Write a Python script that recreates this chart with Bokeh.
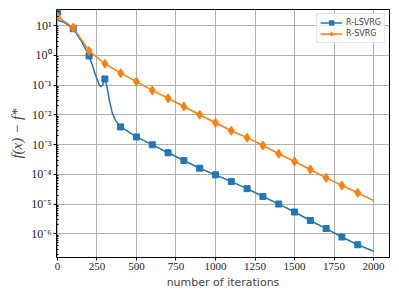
from bokeh.plotting import figure
from bokeh.models import FixedTicker, CustomJSTickFormatter, Range1d
from bokeh.embed import file_html
from bokeh.resources import INLINE

# ---- data ----
lsvrg_iters = [0, 3, 40, 100, 156, 200, 219, 240, 262, 272, 285, 300, 314, 329, 346, 367,
               400, 500, 600, 700, 800, 900, 1000, 1100, 1200, 1300, 1400, 1500, 1600,
               1700, 1800, 1900, 2000]
lsvrg_vals = [28, 15, 12.9, 7.8, 2.7, 0.95, 0.5, 0.22, 0.11, 0.089, 0.097, 0.16, 0.085, 0.03,
              0.012, 0.0065, 0.0039, 0.0018, 9.8e-4, 5.3e-4, 2.9e-4, 1.6e-4, 9.6e-5, 5.7e-5,
              3.3e-5, 1.8e-5, 1.0e-5, 5.4e-6, 2.8e-6, 1.5e-6, 7.8e-7, 4.3e-7, 2.6e-7]

svrg_iters = [0, 100, 200, 300, 400, 500, 600, 700, 800, 900, 1000, 1100, 1200, 1300,
              1400, 1500, 1600, 1700, 1800, 1900, 2000]
svrg_vals = [20, 8.5, 1.4, 0.52, 0.25, 0.13, 0.066, 0.036, 0.019, 0.010, 5.4e-3, 2.9e-3,
             1.7e-3, 9.3e-4, 4.9e-4, 2.7e-4, 1.45e-4, 7.6e-5, 4.2e-5, 2.4e-5, 1.3e-5]

marker_every = 100
x_ticks = [0, 250, 500, 750, 1000, 1250, 1500, 1750, 2000]
y_ticks = [1e-6, 1e-5, 1e-4, 1e-3, 1e-2, 1e-1, 1e0, 1e1]
y_minor = [m * 10.0 ** e for e in range(-7, 2) for m in range(2, 10)]

BLUE = "#1f77b4"
ORANGE = "#ff7f0e"

lsvrg_mx = [x for x in lsvrg_iters if x % marker_every == 0 and x < 2000]
lsvrg_my = [v for x, v in zip(lsvrg_iters, lsvrg_vals) if x % marker_every == 0 and x < 2000]
svrg_mx = [x for x in svrg_iters if x % marker_every == 0 and x < 2000]
svrg_my = [v for x, v in zip(svrg_iters, svrg_vals) if x % marker_every == 0 and x < 2000]

p = figure(width=391, height=291, y_axis_type="log",
           x_range=Range1d(-6, 2101), y_range=Range1d(1.6e-7, 34.5),
           output_backend="svg", toolbar_location=None,
           min_border_left=56, min_border_right=2, min_border_top=9, min_border_bottom=34)

p.line(lsvrg_iters, lsvrg_vals, color=BLUE, line_width=1.5, legend_label="R-LSVRG")
p.scatter(lsvrg_mx, lsvrg_my, marker="square", size=6, color=BLUE, legend_label="R-LSVRG")
p.line(svrg_iters, svrg_vals, color=ORANGE, line_width=1.5, legend_label="R-SVRG")
p.scatter(svrg_mx, svrg_my, marker="diamond", size=9, color=ORANGE, legend_label="R-SVRG")

p.outline_line_color = "black"
p.outline_line_width = 1
p.outline_line_alpha = 1

p.xaxis.ticker = FixedTicker(ticks=x_ticks)
p.yaxis.ticker = FixedTicker(ticks=y_ticks, minor_ticks=y_minor)
p.yaxis.formatter = CustomJSTickFormatter(code="""
const e = Math.round(Math.log10(tick));
const sup = {'-':'\u207b','0':'\u2070','1':'\u00b9','2':'\u00b2','3':'\u00b3','4':'\u2074','5':'\u2075','6':'\u2076','7':'\u2077','8':'\u2078','9':'\u2079'};
return '10' + String(e).split('').map(c => sup[c]).join('');
""")

for ax in (p.xaxis, p.yaxis):
    ax.axis_line_color = "black"
    ax.major_tick_line_color = "black"
    ax.major_tick_out = 3
    ax.major_tick_in = 0
    ax.major_label_text_font = "Liberation Serif"
    ax.major_label_text_color = "#222222"
    ax.major_label_standoff = 2
p.xaxis.major_label_text_font_size = "11px"
p.yaxis.major_label_text_font_size = "12px"
p.xaxis.minor_tick_line_color = None
p.yaxis.minor_tick_line_color = "black"
p.yaxis.minor_tick_in = 2
p.yaxis.minor_tick_out = 0

p.xaxis.axis_label = "number of iterations"
p.xaxis.axis_label_text_font = "DejaVu Sans"
p.xaxis.axis_label_text_font_style = "normal"
p.xaxis.axis_label_text_font_size = "11px"
p.xaxis.axis_label_standoff = 3
p.yaxis.axis_label = "f(x) \u2212 f*"
p.yaxis.axis_label_text_font = "Liberation Serif"
p.yaxis.axis_label_text_font_style = "italic"
p.yaxis.axis_label_text_font_size = "15px"
p.yaxis.axis_label_standoff = 3

p.grid.grid_line_color = "#b0b0b0"
p.grid.grid_line_width = 1
p.grid.grid_line_alpha = 1
p.ygrid.minor_grid_line_color = None

lg = p.legend[0]
lg.location = "top_right"
lg.margin = 4
lg.padding = 3
lg.spacing = 0
lg.label_text_font = "DejaVu Sans"
lg.label_text_font_size = "8px"
lg.label_height = 11
lg.glyph_height = 11
lg.glyph_width = 22
lg.label_standoff = 4
lg.border_line_color = "#cccccc"
lg.background_fill_alpha = 0.8

open("out.html", "w").write(file_html(p, INLINE))
